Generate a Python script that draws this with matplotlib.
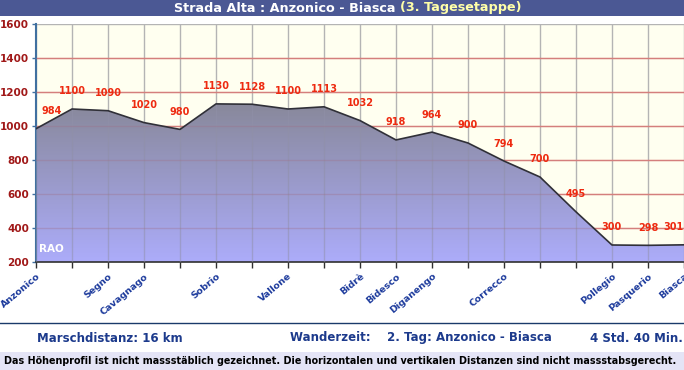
import matplotlib
matplotlib.use("Agg")
import matplotlib.pyplot as plt
import numpy as np
from matplotlib.patches import Rectangle

# Höhenprofil Strada Alta, 3. Tagesetappe
hoehen = [984, 1100, 1090, 1020, 980, 1130, 1128, 1100, 1113, 1032,
          918, 964, 900, 794, 700, 495, 300, 298, 301]
orte = ['Anzonico', '', 'Segno', 'Cavagnago', '', 'Sobrio', '', 'Vallone', '',
        'Bidrè', 'Bidesco', 'Diganengo', '', 'Correcco', '', '', 'Pollegio',
        'Pasquerio', 'Biasca']
y_ticks = [200, 400, 600, 800, 1000, 1200, 1400, 1600]

x = np.arange(len(hoehen))

fig = plt.figure(figsize=(6.84, 3.70), dpi=100)
fig.patch.set_facecolor('white')

# Titelbalken
fig.patches.append(Rectangle((0, 1 - 16/370), 1, 16/370, transform=fig.transFigure,
                             facecolor='#4b5894', edgecolor='none', zorder=0))
fig.text(400/684, 1 - 8/370, 'Strada Alta : Anzonico - Biasca ', color='white',
         fontsize=9.2, fontweight='bold', ha='right', va='center')
fig.text(400/684, 1 - 8/370, '(3. Tagesetappe)', color='#ffffa8',
         fontsize=9.2, fontweight='bold', ha='left', va='center')

ax = fig.add_axes([36/684, 108/370, 648/684, 238/370])
ax.set_facecolor('#fffff0')
ax.set_xlim(0, len(hoehen) - 1)
ax.set_ylim(200, 1600)

# Gitter
for xi in x:
    ax.axvline(xi, color='#b4b4b4', lw=1, zorder=1)
for yi in y_ticks[1:-1]:
    ax.axhline(yi, color='#f08878', lw=1, zorder=1)
ax.axhline(1600, color='#b4b4b4', lw=1, zorder=1)

# Fläche mit Verlauf
poly = ax.fill_between(x, hoehen, 200, color='none', zorder=2)
grad = np.linspace(0, 1, 256).reshape(-1, 1)
top = np.array([136, 136, 154]) / 255
bot = np.array([172, 172, 250]) / 255
img = top + (bot - top) * grad[:, :, None] * np.ones((1, 1, 3))
im = ax.imshow(img, extent=[0, len(hoehen) - 1, 200, 1140], aspect='auto',
               origin='upper', zorder=2)
im.set_clip_path(poly.get_paths()[0], transform=ax.transData)
for xi in x:
    ax.plot([xi, xi], [200, hoehen[xi]], color='#9090a8', lw=1, alpha=0.5, zorder=3)
for yi in y_ticks[1:-1]:
    ax.axhline(yi, color='#a07088', lw=1, alpha=0.35, zorder=3)
ax.plot(x, hoehen, color='#303038', lw=1.2, zorder=4)

# Höhenwerte
for xi, h in zip(x, hoehen):
    ha = 'left' if xi == 0 else ('right' if xi == len(hoehen) - 1 else 'center')
    dx = 4 if xi == 0 else 0
    ax.annotate(str(h), (xi, h), xytext=(dx, 9), textcoords='offset points',
                ha=ha, va='bottom', color='#ee2a10', fontsize=7,
                fontweight='bold', zorder=5)

ax.text(0.08, 260, 'RAO', color='white', fontsize=7.5, fontweight='bold', zorder=5)

ax.set_yticks(y_ticks)
ax.set_yticklabels([str(v) for v in y_ticks], color='#a01818', fontsize=7.5,
                   fontweight='bold')
ax.set_xticks(x)
ax.set_xticklabels(orte, rotation=40, ha='right', rotation_mode='anchor',
                   color='#1c3a9c', fontsize=6.8, fontweight='bold')
ax.tick_params(axis='x', length=4, width=1, color='#303030', pad=3)
ax.tick_params(axis='y', length=3, width=1, color='#4070a0', pad=2)
for s in ['top', 'right']:
    ax.spines[s].set_visible(False)
ax.spines['left'].set_color('#4070a0')
ax.spines['left'].set_linewidth(1.5)
ax.spines['bottom'].set_color('#303030')
ax.spines['bottom'].set_linewidth(1.2)

# Fusszeile
fig.add_artist(plt.Line2D([0, 1], [1 - 323/370] * 2, transform=fig.transFigure,
                          color='#1a3a6a', lw=1))
fig.text(37/684, 1 - 338/370, 'Marschdistanz: 16 km', color='#1c3a8c',
         fontsize=8.5, fontweight='bold', va='center')
fig.text(290/684, 1 - 338/370, 'Wanderzeit:    2. Tag: Anzonico - Biasca',
         color='#1c3a8c', fontsize=8.5, fontweight='bold', va='center')
fig.text(683/684, 1 - 338/370, '4 Std. 40 Min.', color='#1c3a8c',
         fontsize=8.5, fontweight='bold', va='center', ha='right')
fig.patches.append(Rectangle((0, 0), 1, 18/370, transform=fig.transFigure,
                             facecolor='#e4e4f6', edgecolor='none', zorder=0))
fig.text(4/684, 9/370, 'Das Höhenprofil ist nicht massstäblich gezeichnet. '
         'Die horizontalen und vertikalen Distanzen sind nicht massstabsgerecht.',
         color='black', fontsize=6.95, fontweight='bold', va='center')

fig.savefig('out.png', dpi=100)
